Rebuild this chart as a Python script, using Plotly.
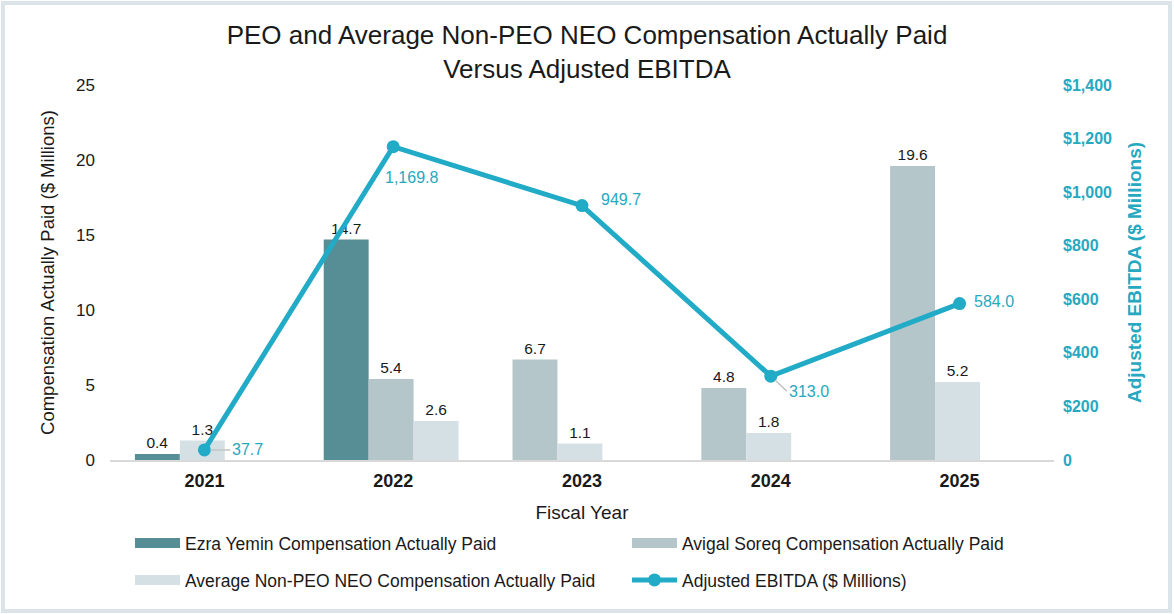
import plotly.graph_objects as go

# ---- data ----
years = ["2021", "2022", "2023", "2024", "2025"]
ezra_cap = [0.4, 14.7, None, None, None]
avigal_cap = [None, 5.4, 6.7, 4.8, 19.6]
avg_neo_cap = [1.3, 2.6, 1.1, 1.8, 5.2]
adj_ebitda = [37.7, 1169.8, 949.7, 313.0, 584.0]

left_ticks = [0, 5, 10, 15, 20, 25]
right_ticks = [0, 200, 400, 600, 800, 1000, 1200, 1400]
right_ticktext = ["0", "$200", "$400", "$600", "$800", "$1,000", "$1,200", "$1,400"]

names = ["Ezra Yemin Compensation Actually Paid",
         "Avigal Soreq Compensation Actually Paid",
         "Average Non-PEO NEO Compensation Actually Paid",
         "Adjusted EBITDA ($ Millions)"]

# ---- styles ----
W, H = 1174, 614
ML, MR, MT, MB = 110, 120, 85, 154
PW, PH = W - ML - MR, H - MT - MB
bar_colors = ["#578e96", "#b5c6ca", "#d5e0e5"]
line_color = "#22abc6"
teal_text = "#27a8c1"
txt = "#1a1a1a"
FONT = "Liberation Sans, Arial, sans-serif"
bar_w = 0.238
group_start = -0.368
# label placement per line point: (xanchor, xshift, yshift, arrow ax, arrow ay)
lbl_style = [("left", 0, 0, 26, 0), ("left", -10, -31, None, None),
             ("left", 17, 6, None, None), ("left", 0, 0, 16, 15),
             ("left", 12, 2, None, None)]
# legend slots (pixel x of entry start, pixel y of row centre)
legend_ids = ["legend", "legend2", "legend3", "legend4"]
legend_pos = [(130, 543), (627, 543), (130, 580), (627, 580)]

fig = go.Figure()

# bars: present series are packed left within each year's group
series = [ezra_cap, avigal_cap, avg_neo_cap]
slot = [0] * len(years)
offsets = []
for s in series:
    off = []
    for i, v in enumerate(s):
        if v is None:
            off.append(group_start)
        else:
            off.append(group_start + slot[i] * bar_w)
            slot[i] += 1
    offsets.append(off)

for s, off, col, nm in zip(series, offsets, bar_colors, names[:3]):
    fig.add_trace(go.Bar(
        x=years, y=s, name=nm, width=bar_w, offset=off,
        marker=dict(color=col, line=dict(width=0)),
        text=[("" if v is None else f"{v:.1f}") for v in s],
        textposition="outside", textfont=dict(size=15.5, color=txt, family=FONT),
        cliponaxis=False, showlegend=False, hoverinfo="skip"))

# legend swatches for bars
for col, nm, lg in zip(bar_colors, names[:3], legend_ids[:3]):
    fig.add_trace(go.Scatter(x=[years[0]], y=[None], mode="lines", name=nm,
                             line=dict(color=col, width=10), legend=lg,
                             hoverinfo="skip"))

fig.add_trace(go.Scatter(
    x=years, y=adj_ebitda, name=names[3], yaxis="y2", mode="lines+markers",
    line=dict(color=line_color, width=5), marker=dict(size=13, color=line_color),
    legend=legend_ids[3], cliponaxis=False))

for i, (v, (xa, xs, ys, ax, ay)) in enumerate(zip(adj_ebitda, lbl_style)):
    if ax is None:
        fig.add_annotation(x=i, y=v, xref="x", yref="y2", text=f"{v:,.1f}",
                           showarrow=False, xanchor=xa, xshift=xs, yshift=ys,
                           font=dict(size=16, color=teal_text, family=FONT))
    else:
        fig.add_annotation(x=i, y=v, xref="x", yref="y2", text=f"{v:,.1f}",
                           showarrow=True, arrowhead=0, arrowwidth=1.5,
                           arrowcolor="#c4c4c4", ax=ax, ay=ay, xanchor=xa,
                           standoff=6,
                           font=dict(size=16, color=teal_text, family=FONT))

# outer frame
fig.add_shape(type="rect", xref="paper", yref="paper",
              x0=(3 - ML) / PW, x1=(W - 4 - ML) / PW,
              y0=(MT + PH - (H - 3)) / PH, y1=(MT + PH - 3) / PH,
              line=dict(color="#dae4e9", width=4), layer="below")

legend_layout = {}
for lg, (px, py) in zip(legend_ids, legend_pos):
    legend_layout[lg] = dict(orientation="h", x=(px - ML) / PW, xref="paper", xanchor="left",
                             y=(MT + PH - py) / PH, yref="paper", yanchor="middle",
                             itemwidth=45, font=dict(size=17.5, color=txt),
                             bgcolor="rgba(0,0,0,0)")

fig.update_layout(
    width=W, height=H,
    margin=dict(l=ML, r=MR, t=MT, b=MB, autoexpand=False),
    paper_bgcolor="white", plot_bgcolor="white",
    barmode="overlay",
    font=dict(family=FONT, color=txt),
    title=dict(text="PEO and Average Non-PEO NEO Compensation Actually Paid<br>Versus Adjusted EBITDA",
               x=0.5, xanchor="center", y=1 - 44 / H, yanchor="middle",
               font=dict(size=26, color=txt, family=FONT)),
    xaxis=dict(type="category", categoryorder="array", categoryarray=years,
               range=[-0.5, len(years) - 0.5], automargin=False,
               showline=True, linecolor="#d9d9d9", linewidth=2,
               ticks="", ticklabelstandoff=3,
               tickfont=dict(size=18, color=txt, family=FONT, weight="bold"),
               title=dict(text="Fiscal Year", font=dict(size=19, color=txt), standoff=16),
               showgrid=False, zeroline=False),
    yaxis=dict(range=[0, 25], tickvals=left_ticks, showgrid=False, zeroline=False,
               showline=False, ticks="", tickfont=dict(size=17, color=txt),
               ticklabelstandoff=14, automargin=False,
               title=dict(text="Compensation Actually Paid ($ Millions)",
                          font=dict(size=18.5, color=txt), standoff=16)),
    yaxis2=dict(range=[0, 1400], overlaying="y", side="right", tickvals=right_ticks,
                ticktext=right_ticktext, showgrid=False, zeroline=False, showline=False,
                ticks="", ticklabelstandoff=8, automargin=False,
                tickfont=dict(size=16, color=teal_text, weight="bold"),
                title=dict(text="Adjusted EBITDA ($ Millions)",
                           font=dict(size=19, color=teal_text, weight="bold"), standoff=16)),
    **legend_layout,
)

fig.write_html("out.html", config={"displayModeBar": False},
               post_script="document.body.style.margin='0px';")
